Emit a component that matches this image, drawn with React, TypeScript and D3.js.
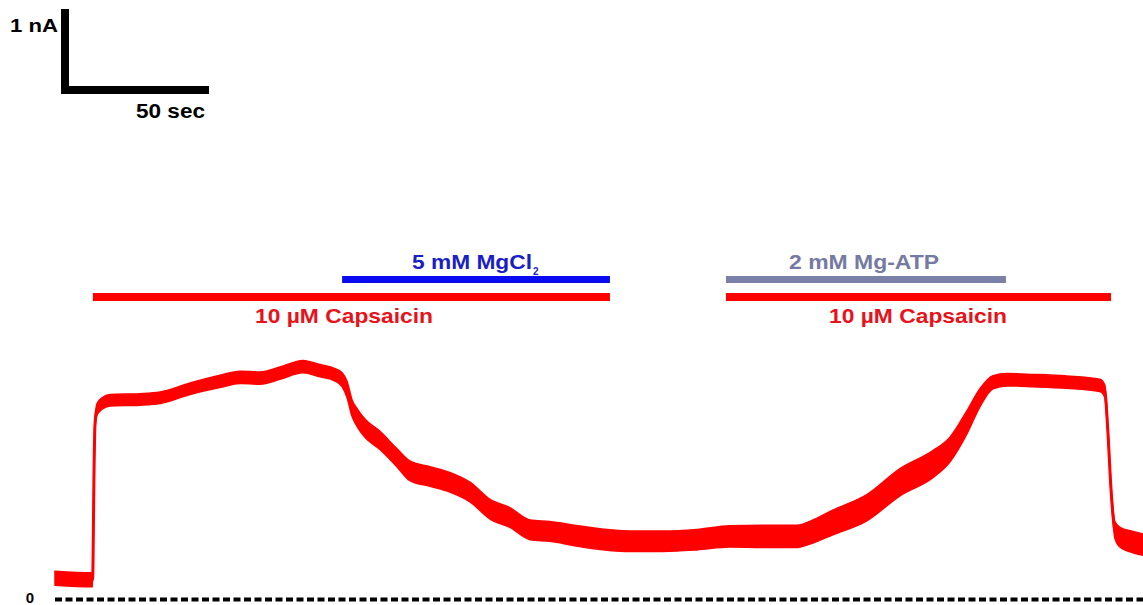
import React from "react";
import * as d3 from "d3";

// Trace (time in s, current in nA, noise band p-p in nA)
const timeSec = [0, 12.7, 13.2, 13.5, 14.2, 15.9, 18.6, 28.7, 35.5, 45.6, 55.7, 62.5, 69.3, 76.0, 83.8, 89.5, 94.6, 97.0, 98.7, 100.3, 102.4, 104.7, 109.8, 115.5, 119.9, 126.7, 133.4, 140.2, 147.0, 153.7, 160.5, 167.2, 177.4, 194.3, 205.4, 216.9, 228.0, 239.2, 250.7, 256.1, 262.8, 274.3, 285.5, 296.6, 302.4, 308.1, 312.5, 316.9, 321.6, 330.4, 341.9, 353.0, 354.7, 355.7, 356.8, 358.1, 359.8, 364.2, 367.6];
const currentNA = [0.26, 0.24, 1.59, 2.13, 2.32, 2.39, 2.43, 2.44, 2.46, 2.57, 2.66, 2.71, 2.70, 2.76, 2.84, 2.79, 2.74, 2.68, 2.56, 2.34, 2.20, 2.09, 1.94, 1.73, 1.57, 1.50, 1.43, 1.31, 1.10, 1.00, 0.85, 0.83, 0.77, 0.71, 0.71, 0.73, 0.77, 0.77, 0.77, 0.83, 0.94, 1.12, 1.43, 1.65, 1.83, 2.16, 2.46, 2.65, 2.68, 2.67, 2.65, 2.61, 2.54, 2.07, 1.34, 0.85, 0.76, 0.70, 0.67];
const noiseNA = [0.17, 0.17, 0.1, 0.12, 0.14, 0.14, 0.14, 0.14, 0.14, 0.14, 0.15, 0.15, 0.15, 0.15, 0.15, 0.15, 0.15, 0.17, 0.2, 0.2, 0.22, 0.22, 0.22, 0.22, 0.24, 0.24, 0.24, 0.24, 0.24, 0.24, 0.24, 0.24, 0.25, 0.25, 0.25, 0.25, 0.26, 0.27, 0.27, 0.28, 0.3, 0.32, 0.33, 0.33, 0.3, 0.28, 0.22, 0.16, 0.15, 0.15, 0.15, 0.15, 0.15, 0.1, 0.1, 0.2, 0.24, 0.26, 0.26];

// Drug applications (s)
const capsaicinStart = [12.8, 226.7];
const capsaicinEnd = [187.5, 356.8];
const capsaicinLabel = ["10 µM Capsaicin", "10 µM Capsaicin"];
const mgStart = [97.0, 226.7];
const mgEnd = [187.5, 321.3];

// Scale bar values
const scaleBarTime = 50;
const scaleBarCurrent = 1;
const scaleBarTimeLabel = "50 sec";
const scaleBarCurrentLabel = "1 nA";
const zeroLabel = "0";

const FONT = "'Liberation Sans', Arial, Helvetica, sans-serif";

export default function App() {
  const W = 1143;
  const H = 605;
  const x = d3.scaleLinear().domain([0, 367.6]).range([55, 1143]);
  const y = d3.scaleLinear().domain([0, 1]).range([599.5, 517.5]);

  const pts = timeSec.map((t, i) => ({ t, c: currentNA[i], n: noiseNA[i] }));
  const area = d3
    .area<{ t: number; c: number; n: number }>()
    .x((d) => x(d.t))
    .y0((d) => y(d.c - d.n / 2))
    .y1((d) => y(d.c + d.n / 2))
    .curve(d3.curveMonotoneX);
  const line = d3
    .line<{ t: number; c: number; n: number }>()
    .x((d) => x(d.t))
    .y((d) => y(d.c))
    .curve(d3.curveMonotoneX);

  const sbW = x(scaleBarTime) - x(0);
  const sbH = y(0) - y(scaleBarCurrent);

  const capLabelX = [344, 918];
  const mgColors = ["#0a0af0", "#7b80a8"];
  const mgTextColors = ["#1a1ec4", "#747aa2"];

  return (
    <svg
      width={W}
      height={H}
      style={{ position: "absolute", left: 0, top: 0, background: "#fff" }}
    >
      <rect x={0} y={0} width={W} height={H} fill="#fff" />
      {/* scale bar */}
      <rect x={61} y={94 - sbH - 3} width={8} height={sbH + 3} fill="#000" />
      <rect x={61} y={86} width={sbW} height={8} fill="#000" />
      <text x={10} y={32} fontFamily={FONT} fontWeight="bold" fontSize={18} fill="#000" textLength={48} lengthAdjust="spacingAndGlyphs">
        {scaleBarCurrentLabel}
      </text>
      <text x={136} y={118} fontFamily={FONT} fontWeight="bold" fontSize={20} fill="#000" textLength={69} lengthAdjust="spacingAndGlyphs">
        {scaleBarTimeLabel}
      </text>

      {/* capsaicin bars */}
      {capsaicinStart.map((s, i) => (
        <g key={"cap" + i}>
          <rect x={x(s)} y={293} width={x(capsaicinEnd[i]) - x(s)} height={8} fill="#ff0000" />
          <text x={capLabelX[i] - 89} y={323} fontFamily={FONT} fontWeight="bold" fontSize={21} fill="#e8121a" textLength={178} lengthAdjust="spacingAndGlyphs">
            {capsaicinLabel[i]}
          </text>
        </g>
      ))}

      {/* Mg bars */}
      {mgStart.map((s, i) => (
        <rect key={"mg" + i} x={x(s)} y={276} width={x(mgEnd[i]) - x(s)} height={7} fill={mgColors[i]} />
      ))}
      <text x={412} y={269} fontFamily={FONT} fontWeight="bold" fontSize={20} fill={mgTextColors[0]} textLength={120} lengthAdjust="spacingAndGlyphs">
        5 mM MgCl
      </text>
      <text x={533} y={275} fontFamily={FONT} fontWeight="bold" fontSize={10} fill={mgTextColors[0]}>
        2
      </text>
      <text x={789} y={269} fontFamily={FONT} fontWeight="bold" fontSize={20} fill={mgTextColors[1]} textLength={150} lengthAdjust="spacingAndGlyphs">
        2 mM Mg-ATP
      </text>

      {/* trace */}
      <path d={area(pts) || ""} fill="#ff0000" stroke="#ff0000" strokeWidth={1.5} />
      <path d={line(pts) || ""} fill="none" stroke="#ff0000" strokeWidth={3} />

      {/* zero line */}
      <line x1={55} x2={W} y1={y(0)} y2={y(0)} stroke="#000" strokeWidth={4} strokeDasharray="7 3.5" />
      <text x={30} y={603} textAnchor="middle" fontFamily={FONT} fontWeight="bold" fontSize={15} fill="#000">
        {zeroLabel}
      </text>
    </svg>
  );
}
